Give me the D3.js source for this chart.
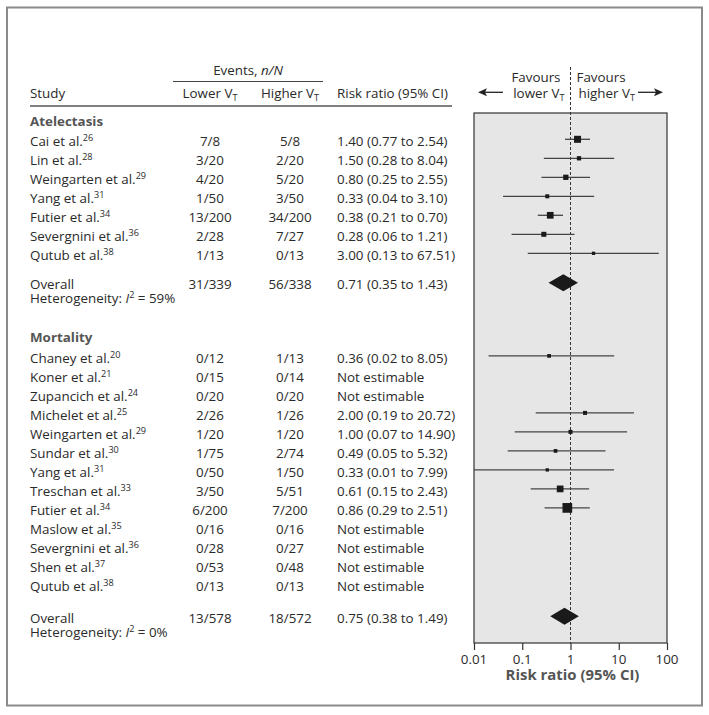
<!DOCTYPE html>
<html><head><meta charset="utf-8">
<script src="https://cdn.jsdelivr.net/npm/d3@7"></script>
<style>body{margin:0;background:#fff}</style>
</head><body><svg id="c" width="709" height="715"></svg>
<script>
// ---------- DATA ----------
const atelStudies = ["Cai et al.","Lin et al.","Weingarten et al.","Yang et al.","Futier et al.","Severgnini et al.","Qutub et al."];
const atelRefs = ["26","28","29","31","34","36","38"];
const atelLowerEvents = [7,3,4,1,13,2,1];
const atelLowerTotal = [8,20,20,50,200,28,13];
const atelHigherEvents = [5,2,5,3,34,7,0];
const atelHigherTotal = [8,20,20,50,200,27,13];
const atelRR = [1.40,1.50,0.80,0.33,0.38,0.28,3.00];
const atelLow = [0.77,0.28,0.25,0.04,0.21,0.06,0.13];
const atelHigh = [2.54,8.04,2.55,3.10,0.70,1.21,67.51];
const atelWeight = [25,9.4,14.3,8.2,22.9,12.8,5.6];
const atelOverallLower = [31,339];
const atelOverallHigher = [56,338];
const atelOverallRR = [0.71,0.35,1.43];
const atelI2 = 59;

const mortStudies = ["Chaney et al.","Koner et al.","Zupancich et al.","Michelet et al.","Weingarten et al.","Sundar et al.","Yang et al.","Treschan et al.","Futier et al.","Maslow et al.","Severgnini et al.","Shen et al.","Qutub et al."];
const mortRefs = ["20","21","24","25","29","30","31","33","34","35","36","37","38"];
const mortLowerEvents = [0,0,0,2,1,1,0,3,6,0,0,0,0];
const mortLowerTotal = [12,15,20,26,20,75,50,50,200,16,28,53,13];
const mortHigherEvents = [1,0,0,1,1,2,1,5,7,0,0,0,0];
const mortHigherTotal = [13,14,20,26,20,74,50,51,200,16,27,48,13];
const mortRR = [0.36,null,null,2.00,1.00,0.49,0.33,0.61,0.86,null,null,null,null];
const mortLow = [0.02,null,null,0.19,0.07,0.05,0.01,0.15,0.29,null,null,null,null];
const mortHigh = [8.05,null,null,20.72,14.90,5.32,7.99,2.43,2.51,null,null,null,null];
const mortWeight = [7.0,0,0,8.2,8.2,7.0,5.6,22.9,48,0,0,0,0];
const mortOverallLower = [13,578];
const mortOverallHigher = [18,572];
const mortOverallRR = [0.75,0.38,1.49];
const mortI2 = 0;

const tickValues = [0.01,0.1,1,10,100];
const tickLabels = ["0.01","0.1","1","10","100"];

// ---------- SETUP ----------
const FONT = "'Open Sans', 'Noto Sans', sans-serif";
const TXT = "#2a2a2a";
const svg = d3.select("#c").attr("font-family", FONT);

// horizontal compression to mimic the narrower original typeface
const m = svg.append("text").attr("font-size",13).text("Risk ratio (95% CI)");
const K = 111 / m.node().getComputedTextLength();
m.remove();

function txt(parent, x, y, parts, o = {}) {
  const size = o.size || 13;
  const t = parent.append("text")
    .attr("transform", `translate(${x},${y}) scale(${K},1)`)
    .attr("text-anchor", o.anchor || "start")
    .attr("font-size", size)
    .attr("font-weight", o.weight || "normal")
    .attr("fill", o.fill || TXT);
  if (typeof parts === "string") parts = [parts];
  let shift = 0;
  parts.forEach(p => {
    if (typeof p === "string") p = {t: p};
    const ts = t.append("tspan").text(p.t);
    let target = 0;
    if (p.sup) { ts.attr("font-size", size * 0.68); target = -4.8; }
    if (p.sub) { ts.attr("font-size", size * 0.68); target = 3; }
    if (p.it) ts.attr("font-style", "italic");
    if (target !== shift) { ts.attr("dy", target - shift); shift = target; }
  });
  return t;
}

// ---------- SCALES ----------
const x = d3.scaleLog().domain([0.01, 100]).range([474, 667]);
const y = d3.scaleLinear().domain([0, 1]).range([139.3, 158.3]);
const side = d3.scaleSqrt().domain([0, 100]).range([0, 14]);
const fmt = d3.format(".2f");
const panelTop = 113, panelBottom = 643;

const colStudy = 30, colLower = 210, colHigher = 290, colRR = 337;

// ---------- FRAME ----------
svg.append("rect").attr("x",7).attr("y",7.5).attr("width",695).attr("height",698)
  .attr("fill","none").attr("stroke","#8a8a8a").attr("stroke-width",2);

// ---------- PANEL ----------
svg.append("rect").attr("x", x(0.01)).attr("y", panelTop)
  .attr("width", x(100) - x(0.01)).attr("height", panelBottom - panelTop)
  .attr("fill", "#e6e6e6").attr("stroke", "#333").attr("stroke-width", 1.2);

// ---------- HEADER ----------
txt(svg, 248, 75, ["Events, ", {t:"n/N", it:true}], {anchor:"middle"});
svg.append("line").attr("x1",173).attr("x2",323).attr("y1",81.5).attr("y2",81.5)
  .attr("stroke","#444").attr("stroke-width",1.2);
txt(svg, colStudy, 97.5, "Study");
txt(svg, colLower, 97.5, ["Lower V", {t:"T", sub:true}], {anchor:"middle"});
txt(svg, colHigher, 97.5, ["Higher V", {t:"T", sub:true}], {anchor:"middle"});
txt(svg, colRR, 97.5, "Risk ratio (95% CI)");
svg.append("line").attr("x1",30).attr("x2",452).attr("y1",106).attr("y2",106)
  .attr("stroke","#555").attr("stroke-width",1.5);

// Favours labels and arrows
const x1 = x(1);
txt(svg, x1 - 10, 82, "Favours", {anchor:"end"});
txt(svg, x1 - 6, 98, ["lower V", {t:"T", sub:true}], {anchor:"end"});
txt(svg, x1 + 6, 82, "Favours");
txt(svg, x1 + 8, 98, ["higher V", {t:"T", sub:true}]);
function arrow(xFrom, xTo, yy) {
  const dir = Math.sign(xTo - xFrom);
  svg.append("line").attr("x1", xFrom).attr("x2", xTo - dir * 6).attr("y1", yy).attr("y2", yy)
    .attr("stroke", "#222").attr("stroke-width", 1.3);
  svg.append("path")
    .attr("d", `M${xTo},${yy} L${xTo - dir*9},${yy-4} L${xTo - dir*7},${yy} L${xTo - dir*9},${yy+4} Z`)
    .attr("fill", "#222");
}
arrow(503, 478, 92.3);
arrow(638, 663, 92.3);

// dashed reference line
svg.append("line").attr("x1", x1).attr("x2", x1).attr("y1", 67).attr("y2", panelBottom)
  .attr("stroke", "#333").attr("stroke-width", 1).attr("stroke-dasharray", "3,2");

// ---------- AXIS ----------
const axis = d3.axisBottom(x).tickValues(tickValues)
  .tickFormat((d, i) => tickLabels[i]).tickSize(7).tickSizeOuter(0);
const ag = svg.append("g").attr("transform", `translate(0,${panelBottom})`).call(axis);
ag.select(".domain").remove();
ag.selectAll(".tick line").attr("stroke", "#333").attr("stroke-width", 1.2);
ag.selectAll(".tick text").remove();
tickValues.forEach((v, i) => txt(svg, x(v), 663.5, tickLabels[i], {anchor:"middle"}));
txt(svg, x1 + 2, 680, "Risk ratio (95% CI)", {anchor:"middle", size:14.5, weight:"bold", fill:"#555"});

// ---------- SUBGROUP DRAWER ----------
function drawGroup(title, start, studies, refs, le, lt, he, ht, rr, lo, hi, w, oL, oH, oRR, overallIdx, i2) {
  txt(svg, colStudy, y(start - 1) + 5.2, title, {weight:"bold", fill:"#555"});
  studies.forEach((s, i) => {
    const yy = y(start + i);
    const by = yy + 6.8;
    txt(svg, colStudy, by, [s, {t: refs[i], sup:true}]);
    txt(svg, colLower, by, `${le[i]}/${lt[i]}`, {anchor:"middle"});
    txt(svg, colHigher, by, `${he[i]}/${ht[i]}`, {anchor:"middle"});
    if (rr[i] == null) {
      txt(svg, colRR, by, "Not estimable");
    } else {
      txt(svg, colRR, by, `${fmt(rr[i])} (${fmt(lo[i])} to ${fmt(hi[i])})`);
      svg.append("line").attr("x1", x(lo[i])).attr("x2", x(hi[i])).attr("y1", yy).attr("y2", yy)
        .attr("stroke", "#444").attr("stroke-width", 1.3);
      const s2 = side(w[i]);
      svg.append("rect").attr("x", x(rr[i]) - s2/2).attr("y", yy - s2/2)
        .attr("width", s2).attr("height", s2).attr("fill", "#1a1a1a");
    }
  });
  const oy = y(overallIdx);
  const ob = oy + 6.5;
  txt(svg, colStudy, ob, "Overall");
  txt(svg, colLower, ob, `${oL[0]}/${oL[1]}`, {anchor:"middle"});
  txt(svg, colHigher, ob, `${oH[0]}/${oH[1]}`, {anchor:"middle"});
  txt(svg, colRR, ob, `${fmt(oRR[0])} (${fmt(oRR[1])} to ${fmt(oRR[2])})`);
  txt(svg, colStudy, ob + 14, ["Heterogeneity: ", {t:"I", it:true}, {t:"2", sup:true}, {t:` = ${i2}%`}]);
  svg.append("path")
    .attr("d", `M${x(oRR[1])},${oy} L${x(oRR[0])},${oy-8.5} L${x(oRR[2])},${oy} L${x(oRR[0])},${oy+8.5} Z`)
    .attr("fill", "#1a1a1a");
}

drawGroup("Atelectasis", 0, atelStudies, atelRefs, atelLowerEvents, atelLowerTotal,
  atelHigherEvents, atelHigherTotal, atelRR, atelLow, atelHigh, atelWeight,
  atelOverallLower, atelOverallHigher, atelOverallRR, 7.55, atelI2);
drawGroup("Mortality", 11.4, mortStudies, mortRefs, mortLowerEvents, mortLowerTotal,
  mortHigherEvents, mortHigherTotal, mortRR, mortLow, mortHigh, mortWeight,
  mortOverallLower, mortOverallHigher, mortOverallRR, 25.1, mortI2);
</script>
</body></html>
